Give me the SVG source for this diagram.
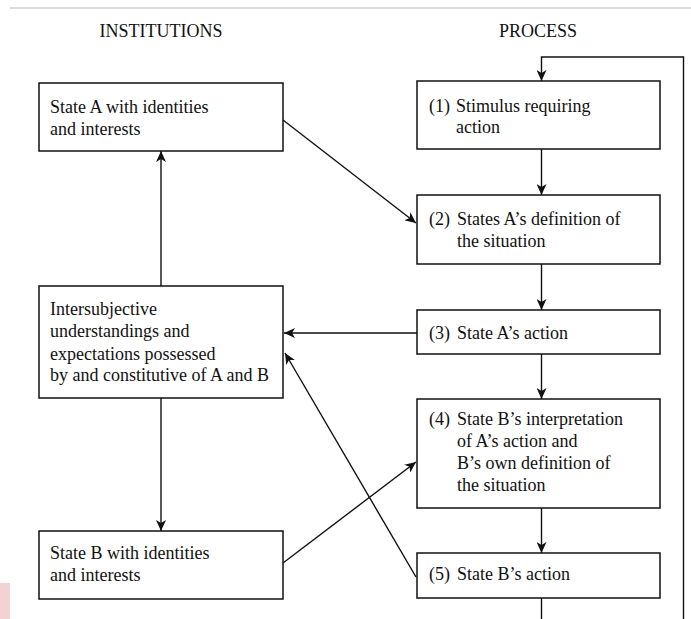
<svg xmlns="http://www.w3.org/2000/svg" width="691" height="619" viewBox="0 0 691 619">
<style>
  .box { fill: #fff; stroke: #111; stroke-width: 1.5; }
  .t { font-family: "Liberation Serif", "Times New Roman", serif; font-size: 18px; fill: #111; }
  .h { font-family: "Liberation Serif", "Times New Roman", serif; font-size: 18px; fill: #111; text-anchor: middle; }
  .c { fill: none; stroke: #111; stroke-width: 1.4; }
</style>
<defs>
  <marker id="arr" markerUnits="userSpaceOnUse" markerWidth="12" markerHeight="10" refX="11" refY="5" orient="auto">
    <path d="M0,0 L11,5 L0,10 L3,5 z" fill="#111"/>
  </marker>
</defs>
<rect x="0" y="0" width="691" height="619" fill="#fff"/>
<line x1="10" y1="8" x2="691" y2="8" stroke="#d0d0d0" stroke-width="1.5"/>
<rect x="0" y="583" width="10" height="36" fill="#f2d2d2"/>

<text class="h" x="161" y="37">INSTITUTIONS</text>
<text class="h" x="538" y="37">PROCESS</text>

<g id="connectors">
  <polyline class="c" points="683.5,619 683.5,57 541.5,57 541.5,81" marker-end="url(#arr)"/>
  <line class="c" x1="541.5" y1="149" x2="541.5" y2="195" marker-end="url(#arr)"/>
  <line class="c" x1="541.5" y1="264" x2="541.5" y2="310" marker-end="url(#arr)"/>
  <line class="c" x1="541.5" y1="354" x2="541.5" y2="399" marker-end="url(#arr)"/>
  <line class="c" x1="541.5" y1="508" x2="541.5" y2="553" marker-end="url(#arr)"/>
  <line class="c" x1="541.5" y1="598" x2="541.5" y2="619"/>
  <line class="c" x1="161" y1="286" x2="161" y2="151" marker-end="url(#arr)"/>
  <line class="c" x1="161" y1="398" x2="161" y2="531" marker-end="url(#arr)"/>
  <line class="c" x1="283" y1="120" x2="416" y2="223" marker-end="url(#arr)"/>
  <line class="c" x1="417" y1="333" x2="284" y2="333" marker-end="url(#arr)"/>
  <line class="c" x1="416" y1="577" x2="285" y2="353" marker-end="url(#arr)"/>
  <line class="c" x1="283" y1="563" x2="416" y2="462" marker-end="url(#arr)"/>
</g>

<g id="stateA">
  <rect class="box" x="39" y="83" width="244" height="68"/>
  <text class="t" x="50" y="113">State A with identities</text>
  <text class="t" x="50" y="134.5">and interests</text>
</g>
<g id="intersubjective">
  <rect class="box" x="39" y="286" width="244" height="112"/>
  <text class="t" x="50" y="315">Intersubjective</text>
  <text class="t" x="50" y="337">understandings and</text>
  <text class="t" x="50" y="359.5">expectations possessed</text>
  <text class="t" x="50" y="381">by and constitutive of A and B</text>
</g>
<g id="stateB">
  <rect class="box" x="39" y="531" width="244" height="68"/>
  <text class="t" x="50" y="559">State B with identities</text>
  <text class="t" x="50" y="581">and interests</text>
</g>
<g id="step1">
  <rect class="box" x="417" y="81" width="243" height="68"/>
  <text class="t" x="429" y="111.5">(1)</text>
  <text class="t" x="456" y="111.5">Stimulus requiring</text>
  <text class="t" x="456" y="133">action</text>
</g>
<g id="step2">
  <rect class="box" x="417" y="195" width="243" height="69"/>
  <text class="t" x="429" y="225">(2)</text>
  <text class="t" x="457" y="225">States A’s definition of</text>
  <text class="t" x="457" y="246.5">the situation</text>
</g>
<g id="step3">
  <rect class="box" x="417" y="310" width="243" height="44"/>
  <text class="t" x="429" y="339">(3)</text>
  <text class="t" x="457" y="339">State A’s action</text>
</g>
<g id="step4">
  <rect class="box" x="417" y="399" width="243" height="109"/>
  <text class="t" x="429" y="425">(4)</text>
  <text class="t" x="457" y="425">State B’s interpretation</text>
  <text class="t" x="457" y="447">of A’s action and</text>
  <text class="t" x="457" y="469">B’s own definition of</text>
  <text class="t" x="457" y="491">the situation</text>
</g>
<g id="step5">
  <rect class="box" x="417" y="553" width="243" height="45"/>
  <text class="t" x="429" y="580">(5)</text>
  <text class="t" x="457" y="580">State B’s action</text>
</g>
</svg>
